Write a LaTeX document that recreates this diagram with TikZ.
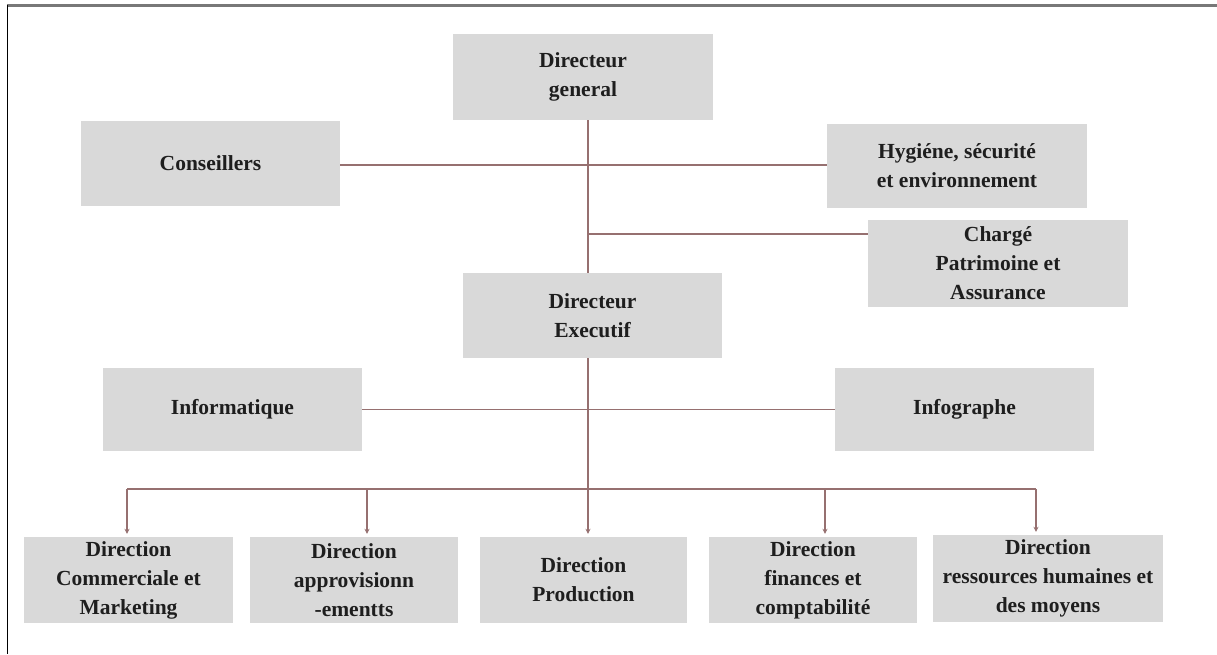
\documentclass[tikz,border=0pt]{standalone}
\usepackage{fontspec}
\setmainfont{Liberation Serif}
\usetikzlibrary{arrows.meta}
\definecolor{boxgray}{RGB}{217,217,217}
\definecolor{linkbrown}{RGB}{150,112,112}
\definecolor{txt}{RGB}{30,30,30}
\definecolor{framegray}{RGB}{120,120,120}
\begin{document}
\begin{tikzpicture}[x=1pt,y=-1pt,
  unit/.style={rectangle, fill=boxgray, inner sep=0pt, align=center,
    text=txt, font=\bfseries\fontsize{21.5}{29}\selectfont},
  link/.style={draw=linkbrown, line width=1.5pt},
  drop/.style={link, -{Stealth[length=5pt,width=5pt]}, shorten >=3pt}]
\useasboundingbox (0,0) rectangle (1217,654);
% page frame
\draw[framegray, line width=2.5pt] (7,5.5) -- (1217,5.5);
\draw[black, line width=1.5pt] (7.5,5) -- (7.5,654);

% upper management
\node[unit, minimum width=260pt, minimum height=86pt] (dg) at (583,77) {Directeur\\general};
\node[unit, minimum width=259pt, minimum height=85pt] (cons) at (210.5,163.5) {Conseillers};
\node[unit, minimum width=260pt, minimum height=84pt] (hse) at (957,166) {Hygiéne, sécurité\\et environnement};
\node[unit, minimum width=260pt, minimum height=87pt] (cpa) at (998,263.5) {Chargé\\Patrimoine et\\Assurance};
\node[unit, minimum width=259pt, minimum height=85pt] (de) at (592.5,315.5) {Directeur\\Executif};
\node[unit, minimum width=259pt, minimum height=83pt] (info) at (232.5,409.5) {Informatique};
\node[unit, minimum width=259pt, minimum height=83pt] (infog) at (964.5,409.5) {Infographe};

% directions
\node[unit, minimum width=209pt, minimum height=86pt] (d1) at (128.5,580) {Direction\\Commerciale et\\Marketing};
\node[unit, minimum width=208pt, minimum height=86pt] (d2) at (354,580) {Direction\\approvisionn\\-ementts};
\node[unit, minimum width=207pt, minimum height=86pt] (d3) at (583.5,580) {Direction\\Production};
\node[unit, minimum width=208pt, minimum height=86pt] (d4) at (813,580) {Direction\\finances et\\comptabilité};
\node[unit, minimum width=230pt, minimum height=87pt] (d5) at (1048,578.5) {Direction\\ressources humaines et\\des moyens};

% junction points
\coordinate (spine) at (588,0);
\coordinate (cj) at (588,234);
\coordinate (bus) at (0,489);
\coordinate (x1) at (127,0);
\coordinate (x2) at (367,0);
\coordinate (x4) at (825,0);
\coordinate (x5) at (1036,0);

% connectors
\draw[link] (dg.south -| spine) -- (de.north -| spine);
\draw[link] (cons.east |- 0,165) -- (hse.west |- 0,165);
\draw[link] (cj) -- (cj -| cpa.west);
\draw[link] (info.east) -- (info.east -| infog.west);
\draw[drop] (de.south -| spine) -- (d3.north -| spine);
\draw[link] (bus -| x1) -- (bus -| x5);
\draw[drop] (bus -| x1) -- (d1.north -| x1);
\draw[drop] (bus -| x2) -- (d2.north -| x2);
\draw[drop] (bus -| x4) -- (d4.north -| x4);
\draw[drop] (bus -| x5) -- (d5.north -| x5);
\end{tikzpicture}
\end{document}
